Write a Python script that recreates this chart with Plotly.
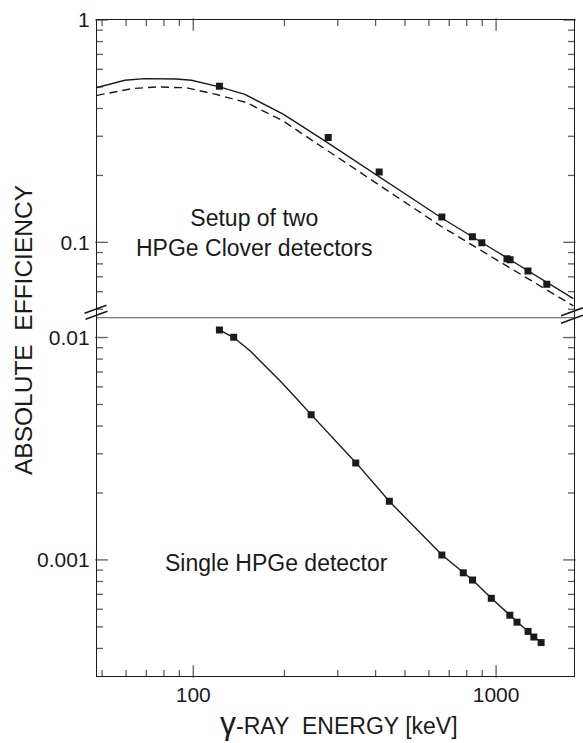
import plotly.graph_objects as go
import math

# ---------------- data ----------------
# Setup of two HPGe Clover detectors: measured points
clover_E = [122, 279, 411, 662, 835, 897, 1086, 1112, 1274, 1470]
clover_eff = [0.504, 0.296, 0.207, 0.130, 0.106, 0.0997, 0.0843, 0.0835, 0.0744, 0.0648]

# Clover: solid curve
clover_fit_E = [48, 59.5, 69, 80, 88, 98.6, 122, 148, 198, 268, 411, 665, 1000, 1800]
clover_fit_eff = [0.497, 0.536, 0.545, 0.546, 0.543, 0.536, 0.500, 0.463, 0.377, 0.290,
                  0.1965, 0.128, 0.0912, 0.0558]

# Clover: dashed curve
clover_dash_E = [48, 63.3, 75.6, 95, 119, 150, 198, 282, 411, 649, 1000, 1800]
clover_dash_eff = [0.458, 0.492, 0.500, 0.4956, 0.4626, 0.425, 0.3515, 0.255, 0.180,
                   0.1195, 0.0837, 0.0518]

# Single HPGe detector: measured points
single_E = [122, 136, 245, 344, 444, 662, 779, 836, 964, 1110, 1172, 1275, 1332, 1408]
single_eff = [0.01082, 0.01003, 0.0045, 0.00273, 0.001834, 0.001052, 0.000875, 0.000812,
              0.000672, 0.000564, 0.000525, 0.000477, 0.000450, 0.000425]

# Single HPGe detector: solid curve
single_fit_E = [122, 136, 154, 170, 193, 220, 245, 345, 444, 663, 780, 836, 965, 1110, 1172,
                1275, 1334, 1409]
single_fit_eff = [0.01082, 0.0100, 0.00872, 0.00765, 0.00641, 0.00529, 0.0045, 0.00273,
                  0.001834, 0.001052, 0.000875, 0.000812, 0.000672, 0.000564, 0.000525,
                  0.000477, 0.000450, 0.000425]

x_major = [100, 1000]
x_major_text = ["100", "1000"]
x_minor = [50, 60, 70, 80, 90, 200, 300, 400, 500, 600, 700, 800, 900]

y_up_major = [1, 0.1]
y_up_major_text = ["1", "0.1"]
y_up_minor = [0.05, 0.06, 0.07, 0.08, 0.09, 0.2, 0.3, 0.4, 0.5, 0.6, 0.7, 0.8, 0.9]

y_lo_major = [0.01, 0.001]
y_lo_major_text = ["0.01", "0.001"]
y_lo_minor = [0.0004, 0.0005, 0.0006, 0.0007, 0.0008, 0.0009,
              0.002, 0.003, 0.004, 0.005, 0.006, 0.007, 0.008, 0.009]

# ---------------- layout geometry ----------------
W, H = 583, 743
ML, MR, MT, MB = 97, 8, 15, 67
PW, PH = W - ML - MR, H - MT - MB
split = 361 / 661  # lower panel fraction
LO_H = PH * split
UP_H = PH - LO_H
MAJ, MIN = 9, 5  # tick lengths (px)

FONT = "Liberation Sans, Arial, Helvetica, sans-serif"
INK = "#1a1a1a"

xrange_log = [math.log10(48.1), math.log10(1808)]
y_lo_range = [-3.522, -1.911]
y_up_range = [-1.339, 0]


def px(xpix):
    return (xpix - ML) / PW


def py(ypix):
    return (H - MB - ypix) / PH


def along(rng, frac):
    """value (in data units) at a fraction of a log axis range"""
    return 10 ** (rng[0] + frac * (rng[1] - rng[0]))


def tick_markers(yvals_major, yvals_minor, yrng, plot_h, x_at_top):
    """inside tick marks as short line markers, placed through the axes' log scales"""
    xs, ys, sym, size = [], [], [], []
    for vals, L in [(x_major, MAJ), (x_minor, MIN)]:
        for v in vals:
            f = (1 - L / 2 / plot_h) if x_at_top else (L / 2 / plot_h)
            xs.append(v)
            ys.append(along(yrng, f))
            sym.append("line-ns")
            size.append(L)
    for vals, L in [(yvals_major, MAJ), (yvals_minor, MIN)]:
        for v in vals:
            for f in (L / 2 / PW, 1 - L / 2 / PW):
                xs.append(along(xrange_log, f))
                ys.append(v)
                sym.append("line-ew")
                size.append(L)
    return xs, ys, sym, size


fig = go.Figure()

# upper panel
fig.add_trace(go.Scatter(x=clover_fit_E, y=clover_fit_eff, mode="lines",
                         line=dict(color=INK, width=1.4), xaxis="x2", yaxis="y2",
                         showlegend=False, hoverinfo="skip"))
fig.add_trace(go.Scatter(x=clover_dash_E, y=clover_dash_eff, mode="lines",
                         line=dict(color=INK, width=1.4, dash="8px,5px"), xaxis="x2", yaxis="y2",
                         showlegend=False, hoverinfo="skip"))
fig.add_trace(go.Scatter(x=clover_E, y=clover_eff, mode="markers",
                         marker=dict(symbol="square", size=7, color=INK), xaxis="x2", yaxis="y2",
                         showlegend=False))

# lower panel
fig.add_trace(go.Scatter(x=single_fit_E, y=single_fit_eff, mode="lines",
                         line=dict(color=INK, width=1.4), xaxis="x", yaxis="y",
                         showlegend=False, hoverinfo="skip"))
fig.add_trace(go.Scatter(x=single_E, y=single_eff, mode="markers",
                         marker=dict(symbol="square", size=7, color=INK), xaxis="x", yaxis="y",
                         showlegend=False))

# tick marks on all four sides of both panels
for (yM, ym, yr, ph, top, xa, ya) in [(y_lo_major, y_lo_minor, y_lo_range, LO_H, False, "x", "y"),
                                      (y_up_major, y_up_minor, y_up_range, UP_H, True, "x2", "y2")]:
    tx, ty, ts, tz = tick_markers(yM, ym, yr, ph, top)
    fig.add_trace(go.Scatter(x=tx, y=ty, mode="markers", xaxis=xa, yaxis=ya,
                             marker=dict(symbol=ts, size=tz, color=INK,
                                         line=dict(color=INK, width=1.3)),
                             cliponaxis=False, showlegend=False, hoverinfo="skip"))


def axis_style(**kw):
    d = dict(showgrid=False, zeroline=False, showline=True, linecolor=INK, linewidth=1.4,
             tickmode="array", ticks="", autorange=False,
             tickfont=dict(family=FONT, size=21, color=INK))
    d.update(kw)
    return d


fig.update_layout(
    width=W, height=H, autosize=False,
    margin=dict(l=ML, r=MR, t=MT, b=MB),
    paper_bgcolor="white", plot_bgcolor="white",
    xaxis=axis_style(type="log", range=xrange_log, anchor="y", side="bottom",
                     tickvals=x_major, ticktext=x_major_text),
    xaxis2=axis_style(type="log", range=xrange_log, anchor="y2", side="top",
                      tickvals=x_major, showticklabels=False),
    yaxis=axis_style(type="log", range=y_lo_range, domain=[0, split], anchor="x",
                     mirror=True, tickvals=y_lo_major, ticktext=y_lo_major_text,
                     ticklabelstandoff=2),
    yaxis2=axis_style(type="log", range=y_up_range, domain=[split, 1], anchor="x2",
                      mirror=True, tickvals=y_up_major, ticktext=y_up_major_text,
                      ticklabelstandoff=2),
)

shapes = []
# break line between the two panels
shapes.append(dict(type="line", xref="paper", yref="paper", x0=0, x1=1, y0=split, y1=split,
                   line=dict(color="#555555", width=1)))
# "//" axis break symbols
for cx, cy in [(95.5, 306.5), (96.5, 312.5), (573, 309), (573, 316.5)]:
    shapes.append(dict(type="line", xref="paper", yref="paper",
                       x0=px(cx - 11), y0=py(cy + 4), x1=px(cx + 11), y1=py(cy - 4),
                       line=dict(color=INK, width=1.6)))
fig.update_layout(shapes=shapes)

ann_font = dict(family=FONT, size=23, color=INK)
annotations = [
    dict(text="Setup of two<br>HPGe Clover detectors", x=px(254.5), y=py(230), xref="paper",
         yref="paper", showarrow=False, xanchor="center", yanchor="middle", align="center",
         font=ann_font),
    dict(text="Single HPGe detector", x=px(276.7), y=py(562.5), xref="paper", yref="paper",
         showarrow=False, xanchor="center", yanchor="middle", font=ann_font),
    dict(text="ABSOLUTE&nbsp; EFFICIENCY", x=px(22.8), y=py(327.4), xref="paper", yref="paper",
         showarrow=False, xanchor="center", yanchor="middle", textangle=-90,
         font=dict(family=FONT, size=24.5, color=INK)),
    dict(text="<span style='font-size:32px'>γ</span>-RAY&nbsp; ENERGY [keV]",
         x=px(340), y=py(723), xref="paper", yref="paper",
         showarrow=False, xanchor="center", yanchor="middle",
         font=dict(family=FONT, size=23, color=INK)),
]
fig.update_layout(annotations=annotations)

fig.write_html("out.html")
